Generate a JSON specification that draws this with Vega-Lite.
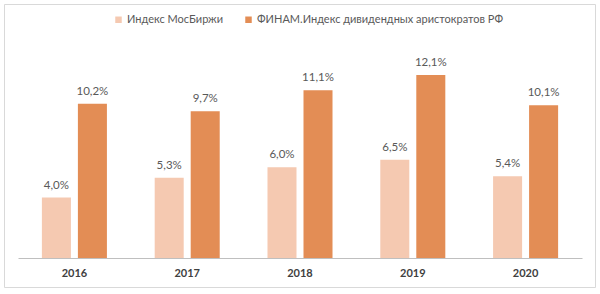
{
  "$schema": "https://vega.github.io/schema/vega-lite/v6.json",
  "width": 591,
  "height": 283,
  "autosize": {"type": "none"},
  "padding": {"left": 4, "top": 4, "right": 5, "bottom": 7},
  "background": "#ffffff",
  "config": {
    "font": "Lato",
    "view": {"stroke": "#d9d9d9", "strokeWidth": 1},
    "locale": {
      "number": {"decimal": ",", "thousands": " ", "grouping": [3], "currency": ["", " ₽"]}
    }
  },
  "data": {
    "values": [
      {"year": "2016", "series": "Индекс МосБиржи", "value": 0.040},
      {"year": "2016", "series": "ФИНАМ.Индекс дивидендных аристократов РФ", "value": 0.102},
      {"year": "2017", "series": "Индекс МосБиржи", "value": 0.053},
      {"year": "2017", "series": "ФИНАМ.Индекс дивидендных аристократов РФ", "value": 0.097},
      {"year": "2018", "series": "Индекс МосБиржи", "value": 0.060},
      {"year": "2018", "series": "ФИНАМ.Индекс дивидендных аристократов РФ", "value": 0.111},
      {"year": "2019", "series": "Индекс МосБиржи", "value": 0.065},
      {"year": "2019", "series": "ФИНАМ.Индекс дивидендных аристократов РФ", "value": 0.121},
      {"year": "2020", "series": "Индекс МосБиржи", "value": 0.054},
      {"year": "2020", "series": "ФИНАМ.Индекс дивидендных аристократов РФ", "value": 0.101}
    ]
  },
  "encoding": {
    "x": {
      "field": "year",
      "type": "nominal",
      "title": null,
      "scale": {"range": [14, 578], "paddingInner": 0.4235, "paddingOuter": 0.2118},
      "axis": {
        "orient": "bottom",
        "offset": -29,
        "labelAngle": 0,
        "ticks": false,
        "domainColor": "#bfbfbf",
        "domainWidth": 1,
        "labelFont": "Lato",
        "labelFontSize": 11,
        "labelFontWeight": "bold",
        "labelColor": "#404040",
        "labelPadding": 9
      }
    },
    "xOffset": {
      "field": "series",
      "type": "nominal",
      "sort": ["Индекс МосБиржи", "ФИНАМ.Индекс дивидендных аристократов РФ"],
      "scale": {"paddingInner": 0.194, "paddingOuter": 0}
    },
    "y": {
      "field": "value",
      "type": "quantitative",
      "scale": {"domain": [-0.0192, 0.168]},
      "axis": null
    }
  },
  "layer": [
    {
      "mark": {"type": "bar"},
      "encoding": {
        "color": {
          "field": "series",
          "type": "nominal",
          "sort": ["Индекс МосБиржи", "ФИНАМ.Индекс дивидендных аристократов РФ"],
          "scale": {"range": ["#F5C9B1", "#E38D55"]},
          "legend": {
            "title": null,
            "orient": "none",
            "direction": "horizontal",
            "legendX": 109,
            "legendY": 10,
            "symbolType": "square",
            "symbolSize": 42,
            "symbolStrokeWidth": 0,
            "labelFont": "Lato",
            "labelFontSize": 11,
            "labelColor": "#595959",
            "labelOffset": 3,
            "columnPadding": 19,
            "labelLimit": 400
          }
        }
      }
    },
    {
      "mark": {"type": "text", "baseline": "alphabetic", "dy": -9, "font": "Lato", "fontSize": 11.5, "color": "#595959"},
      "encoding": {
        "text": {"field": "value", "type": "quantitative", "format": ".1%"}
      }
    }
  ]
}
